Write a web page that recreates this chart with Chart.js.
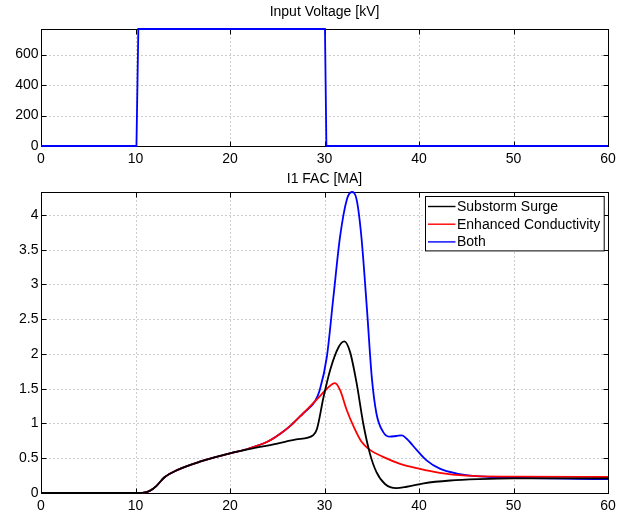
<!DOCTYPE html>
<html>
<head>
<meta charset="utf-8">
<script src="https://cdn.jsdelivr.net/npm/chart.js@4.4.0/dist/chart.umd.min.js"></script>
<style>
  html, body { margin: 0; padding: 0; background: #fff; }
  #wrap { position: relative; width: 627px; height: 515px; }
  #wrap canvas { position: absolute; left: 0; }
</style>
</head>
<body>
<div id="wrap">
  <canvas id="volt" width="627" height="170" style="top:0"></canvas>
  <canvas id="fac" width="627" height="345" style="top:170px"></canvas>
</div>
<script>
// time axis [min]
const xTicks = [0, 10, 20, 30, 40, 50, 60];
const voltTicks = [0, 200, 400, 600];
const facTicks = [0, 0.5, 1, 1.5, 2, 2.5, 3, 3.5, 4];

// input voltage [kV]
const voltT  = [0, 10.1, 10.3, 30.05, 30.2, 60];
const voltKV = [0, 0, 768, 768, 0, 0];

// I1 FAC [MA]
const surgeT = [0, 10.5, 10.9, 11.5, 12.2, 13.1, 14.4, 16.8, 20, 22, 25, 27, 28.8, 29.2, 29.9, 30.6, 31.5, 32.1, 32.7, 33.4, 34.1, 34.8, 35.5, 36.4, 37.6, 38.7, 40.5, 43.3, 46.4, 50, 60];
const surgeI = [0, 0, 0.005, 0.03, 0.1, 0.23, 0.33, 0.45, 0.57, 0.63, 0.71, 0.77, 0.83, 0.92, 1.38, 1.77, 2.10, 2.18, 2.03, 1.58, 1.0, 0.57, 0.30, 0.13, 0.07, 0.09, 0.14, 0.18, 0.20, 0.21, 0.21];

const condT = [0, 10.5, 10.9, 11.5, 12.2, 13.1, 14.4, 16.8, 20, 22, 24, 25.5, 26.5, 27.7, 29, 29.5, 30.25, 31.1, 31.65, 32.36, 33.1, 33.9, 34.8, 36.2, 38, 40, 42.2, 45, 50, 60];
const condI = [0, 0, 0.005, 0.03, 0.1, 0.23, 0.33, 0.45, 0.57, 0.64, 0.74, 0.87, 0.98, 1.14, 1.32, 1.39, 1.50, 1.58, 1.48, 1.19, 0.95, 0.74, 0.62, 0.52, 0.42, 0.35, 0.29, 0.25, 0.235, 0.23];

const bothT = [0, 10.5, 10.9, 11.5, 12.2, 13.1, 14.4, 16.8, 20, 22, 24, 25.5, 26.5, 27.7, 29, 29.5, 30.25, 30.95, 31.65, 32.36, 32.9, 33.4, 33.9, 34.5, 35.0, 35.5, 36.2, 36.9, 37.6, 38.2, 38.7, 39.75, 40.8, 42.2, 44, 46.4, 50, 60];
const bothI = [0, 0, 0.005, 0.03, 0.1, 0.23, 0.33, 0.45, 0.57, 0.64, 0.74, 0.87, 0.98, 1.14, 1.32, 1.48, 1.96, 2.83, 3.69, 4.22, 4.33, 4.22, 3.69, 2.63, 1.67, 1.14, 0.88, 0.81, 0.82, 0.83, 0.78, 0.62, 0.47, 0.35, 0.28, 0.24, 0.22, 0.20];

const FONT = '"Liberation Sans", Arial, Helvetica, sans-serif';
const FSIZE = 14;

function pts(xs, ys) {
  return xs.map((x, i) => ({ x: x, y: ys[i] }));
}

// matlab style box, inward ticks, dotted grid, title and legend
const matlabAxes = {
  id: 'matlabAxes',
  beforeDatasetsDraw(chart, args, opts) {
    const ctx = chart.ctx;
    const a = chart.chartArea;
    const sx = chart.scales.x, sy = chart.scales.y;
    const xs = sx.ticks.map(t => Math.round(sx.getPixelForValue(t.value)) + 0.5);
    const ys = sy.ticks.map(t => Math.round(sy.getPixelForValue(t.value)) + 0.5);
    const L = Math.round(a.left) + 0.5, R = Math.round(a.right) + 0.5;
    const T = Math.round(a.top) + 0.5, B = Math.round(a.bottom) + 0.5;

    ctx.save();
    ctx.strokeStyle = '#9a9a9a';
    ctx.lineWidth = 1;
    ctx.setLineDash([1, 3]);
    ctx.beginPath();
    xs.forEach(px => {
      if (px <= L + 1 || px >= R - 1) return;
      ctx.moveTo(px, T); ctx.lineTo(px, B);
    });
    ys.forEach(py => {
      if (py <= T + 1 || py >= B - 1) return;
      ctx.moveTo(L, py); ctx.lineTo(R, py);
    });
    ctx.stroke();
    ctx.setLineDash([]);

    ctx.strokeStyle = '#000';
    ctx.lineWidth = 1;
    ctx.strokeRect(L, T, R - L, B - T);
    const tl = 5;
    ctx.beginPath();
    xs.forEach(px => {
      ctx.moveTo(px, B); ctx.lineTo(px, B - tl);
      ctx.moveTo(px, T); ctx.lineTo(px, T + tl);
    });
    ys.forEach(py => {
      ctx.moveTo(L, py); ctx.lineTo(L + tl, py);
      ctx.moveTo(R, py); ctx.lineTo(R - tl, py);
    });
    ctx.stroke();

    if (opts.title) {
      ctx.fillStyle = '#000';
      ctx.font = FSIZE + 'px ' + FONT;
      ctx.textAlign = 'center';
      ctx.textBaseline = 'middle';
      ctx.fillText(opts.title, (a.left + a.right) / 2, a.top - opts.titleGap);
    }
    ctx.restore();
  },
  afterDraw(chart, args, opts) {
    if (!opts.legend) return;
    const ctx = chart.ctx;
    const a = chart.chartArea;
    const sets = chart.data.datasets;
    ctx.save();
    ctx.font = FSIZE + 'px ' + FONT;
    const tw = Math.max(...sets.map(d => ctx.measureText(d.label).width));
    const w = 31.5 + tw + 4, rowH = 17.7, h = 10 + rowH * (sets.length - 1) + 9;
    const bx = Math.round(a.right - 4 - w) + 0.5, by = Math.round(a.top + 3.5) + 0.5;
    ctx.fillStyle = '#fff';
    ctx.fillRect(bx, by, w, h);
    ctx.strokeStyle = '#000';
    ctx.lineWidth = 1;
    ctx.strokeRect(bx, by, w, h);
    sets.forEach((d, i) => {
      const ry = by + 10 + i * rowH;
      ctx.strokeStyle = d.borderColor;
      ctx.lineWidth = 1.4;
      ctx.beginPath();
      ctx.moveTo(bx + 2.5, ry); ctx.lineTo(bx + 30, ry);
      ctx.stroke();
      ctx.fillStyle = '#000';
      ctx.textAlign = 'left';
      ctx.textBaseline = 'middle';
      ctx.fillText(d.label, bx + 31.5, ry + 0.5);
    });
    ctx.restore();
  }
};

function axisOpts(ticks, max, yWidth, xHeight) {
  const tickFont = { family: FONT, size: FSIZE };
  return {
    x: {
      type: 'linear', min: 0, max: 60,
      grid: { display: false, drawTicks: false }, border: { display: false },
      afterBuildTicks: s => { s.ticks = xTicks.map(v => ({ value: v })); },
      afterFit: s => { s.height = xHeight; },
      ticks: { color: '#000', font: tickFont, padding: 5, maxRotation: 0, autoSkip: false, callback: v => String(v) }
    },
    y: {
      type: 'linear', min: 0, max: max,
      grid: { display: false, drawTicks: false }, border: { display: false },
      afterBuildTicks: s => { s.ticks = ticks.map(v => ({ value: v })); },
      afterFit: s => { s.width = yWidth; },
      ticks: { color: '#000', font: tickFont, padding: 2.5, autoSkip: false, callback: v => String(v) }
    }
  };
}

function lineSet(label, xs, ys, color, smooth) {
  return {
    label: label,
    data: pts(xs, ys),
    borderColor: color,
    borderWidth: 1.8,
    pointRadius: 0,
    fill: false,
    clip: false,
    tension: 0,
    cubicInterpolationMode: smooth ? 'monotone' : 'default'
  };
}

new Chart(document.getElementById('volt'), {
  type: 'line',
  data: { datasets: [lineSet('Input Voltage', voltT, voltKV, '#0000ff', false)] },
  options: {
    responsive: false,
    animation: false,
    events: [],
    layout: { padding: { left: 0, right: 19, top: 29, bottom: 0 } },
    scales: axisOpts(voltTicks, 768, 41, 24),
    plugins: {
      legend: { display: false },
      tooltip: { enabled: false },
      matlabAxes: { title: 'Input Voltage [kV]', titleGap: 17, legend: false }
    }
  },
  plugins: [matlabAxes]
});

new Chart(document.getElementById('fac'), {
  type: 'line',
  data: {
    datasets: [
      lineSet('Substorm Surge', surgeT, surgeI, '#000000', true),
      lineSet('Enhanced Conductivity', condT, condI, '#ff0000', true),
      lineSet('Both', bothT, bothI, '#0000ff', true)
    ]
  },
  options: {
    responsive: false,
    animation: false,
    events: [],
    layout: { padding: { left: 0, right: 19, top: 22, bottom: 0 } },
    scales: axisOpts(facTicks, 4.33, 41, 22),
    plugins: {
      legend: { display: false },
      tooltip: { enabled: false },
      matlabAxes: { title: 'I1 FAC [MA]', titleGap: 13, legend: true }
    }
  },
  plugins: [matlabAxes]
});
</script>
</body>
</html>
